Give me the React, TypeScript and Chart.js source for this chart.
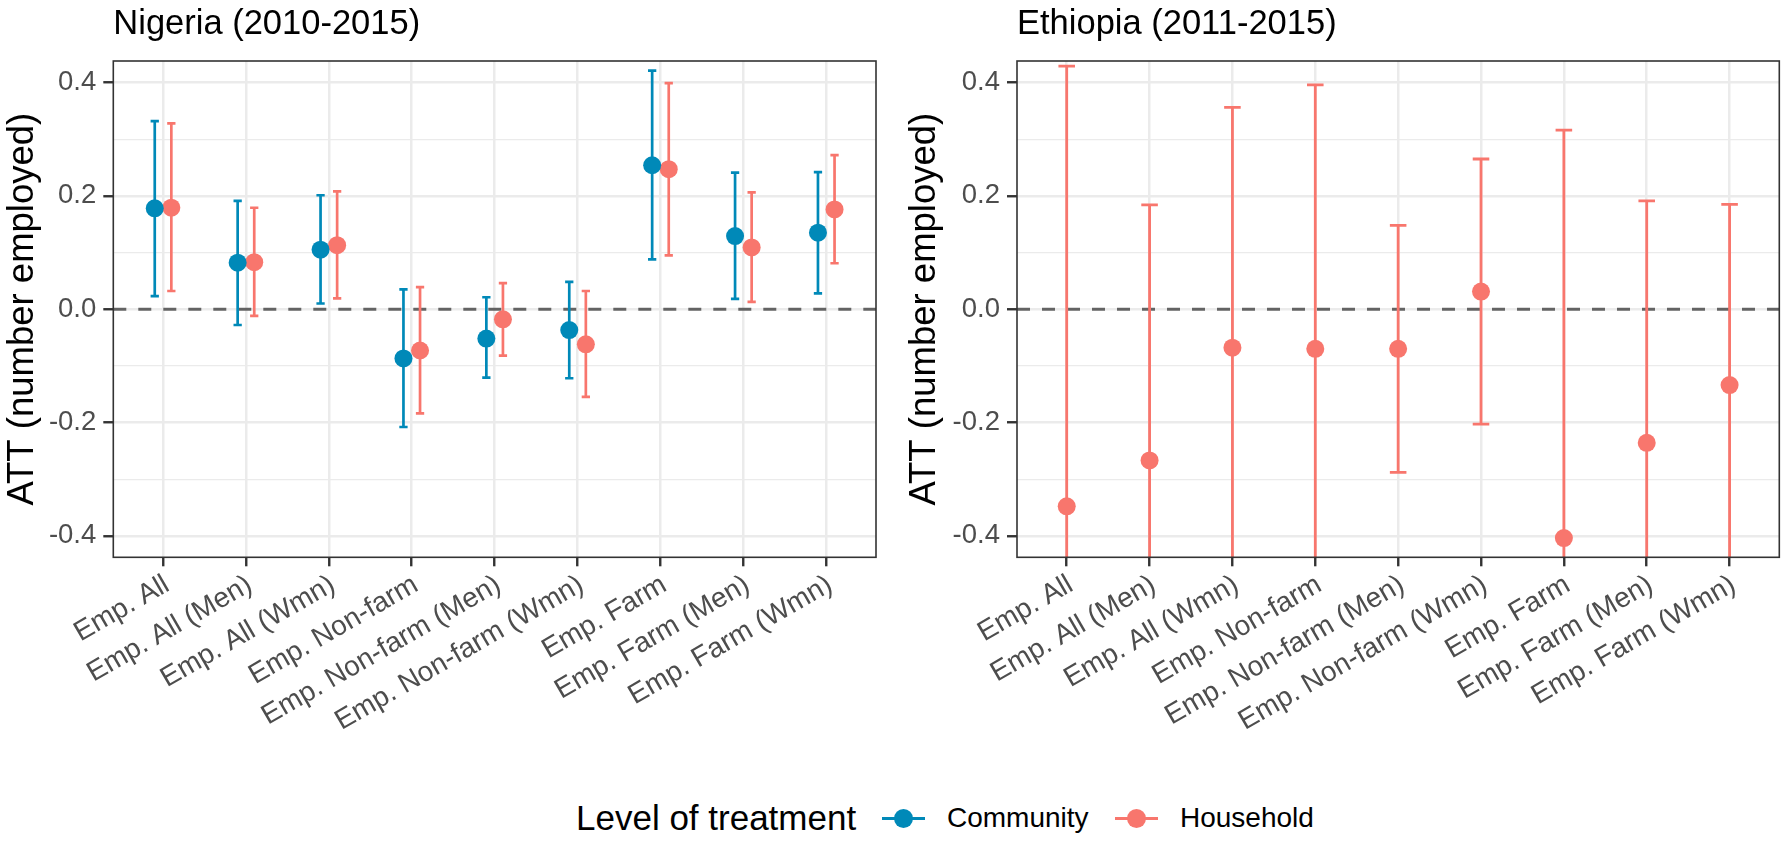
import React, { useEffect, useRef } from "react";
import { Chart, registerables } from "chart.js";

Chart.register(...registerables);

// ---------------- data ----------------
const categories = [
  "Emp. All",
  "Emp. All (Men)",
  "Emp. All (Wmn)",
  "Emp. Non-farm",
  "Emp. Non-farm (Men)",
  "Emp. Non-farm (Wmn)",
  "Emp. Farm",
  "Emp. Farm (Men)",
  "Emp. Farm (Wmn)",
];

const yMajorTicks = [-0.4, -0.2, 0.0, 0.2, 0.4];
const yMinorTicks = [-0.3, -0.1, 0.1, 0.3];

const seriesNames = ["Community", "Household"];
const seriesColors = ["#0089B8", "#F8766D"];
const legendTitle = "Level of treatment";

const nigeriaTitle = "Nigeria (2010-2015)";
const ethiopiaTitle = "Ethiopia (2011-2015)";
const yAxisTitle = "ATT (number employed)";

const nigeriaCommunityEst = [0.178, 0.082, 0.105, -0.087, -0.052, -0.037, 0.254, 0.129, 0.135];
const nigeriaCommunityLow = [0.023, -0.028, 0.010, -0.208, -0.121, -0.122, 0.088, 0.018, 0.028];
const nigeriaCommunityHigh = [0.332, 0.191, 0.201, 0.035, 0.021, 0.048, 0.421, 0.241, 0.242];

const nigeriaHouseholdEst = [0.179, 0.083, 0.113, -0.073, -0.018, -0.062, 0.247, 0.109, 0.176];
const nigeriaHouseholdLow = [0.032, -0.012, 0.019, -0.184, -0.082, -0.155, 0.095, 0.013, 0.081];
const nigeriaHouseholdHigh = [0.328, 0.179, 0.208, 0.039, 0.046, 0.032, 0.399, 0.206, 0.272];

const ethiopiaHouseholdEst = [-0.348, -0.267, -0.068, -0.070, -0.070, 0.031, -0.404, -0.236, -0.134];
const ethiopiaHouseholdLow = [-1.12, -0.72, -0.49, -0.54, -0.288, -0.203, -1.13, -0.66, -0.45];
const ethiopiaHouseholdHigh = [0.429, 0.184, 0.356, 0.396, 0.148, 0.265, 0.316, 0.191, 0.185];

// ---------------- styling ----------------
const FONT = "'Liberation Sans', Arial, Helvetica, sans-serif";
const CANVAS_W = 896;
const CANVAS_H = 770;
const Y_MIN = -0.438;
const Y_MAX = 0.438;

const round1 = (v: number) => Math.round(v * 10) / 10;
const yAllTicks = [...yMajorTicks, ...yMinorTicks].sort((a, b) => a - b);
const isMajor = (v: number) => yMajorTicks.some((t) => Math.abs(t - v) < 1e-6);

const errorBarPlugin = {
  id: "errorBars",
  beforeDatasetsDraw(chart: any) {
    const { ctx, chartArea, scales } = chart;
    const xs = scales.x;
    const ys = scales.y;
    ctx.save();
    ctx.beginPath();
    ctx.rect(chartArea.left, chartArea.top, chartArea.right - chartArea.left, chartArea.bottom - chartArea.top);
    ctx.clip();
    // dashed zero line
    const y0 = ys.getPixelForValue(0);
    ctx.setLineDash([13, 12]);
    ctx.strokeStyle = "rgba(0,0,0,0.58)";
    ctx.lineWidth = 3;
    ctx.beginPath();
    ctx.moveTo(chartArea.left, y0);
    ctx.lineTo(chartArea.right, y0);
    ctx.stroke();
    ctx.setLineDash([]);
    // error bars
    chart.data.datasets.forEach((ds: any) => {
      ctx.strokeStyle = ds.errColor;
      ctx.lineWidth = ds.errWidth;
      ctx.lineCap = "butt";
      ds.data.forEach((pt: any, i: number) => {
        const px = xs.getPixelForValue(pt.x);
        const pl = xs.getPixelForValue(pt.x - ds.capHalf);
        const pr = xs.getPixelForValue(pt.x + ds.capHalf);
        const yl = ys.getPixelForValue(ds.errLow[i]);
        const yh = ys.getPixelForValue(ds.errHigh[i]);
        ctx.beginPath();
        ctx.moveTo(px, yl);
        ctx.lineTo(px, yh);
        ctx.moveTo(pl, yl);
        ctx.lineTo(pr, yl);
        ctx.moveTo(pl, yh);
        ctx.lineTo(pr, yh);
        ctx.stroke();
      });
    });
    ctx.restore();
  },
  afterDraw(chart: any) {
    const { ctx, chartArea } = chart;
    ctx.save();
    ctx.strokeStyle = "#333333";
    ctx.lineWidth = 1.6;
    ctx.strokeRect(chartArea.left, chartArea.top, chartArea.right - chartArea.left, chartArea.bottom - chartArea.top);
    ctx.restore();
  },
};

type SeriesCfg = {
  label: string;
  color: string;
  est: number[];
  low: number[];
  high: number[];
  offset: number;
  capHalf: number;
  width: number;
};

type PanelCfg = {
  title: string;
  series: SeriesCfg[];
  yAxisWidth: number;
  padRight: number;
  yTitlePad: number;
};

function buildConfig(cfg: PanelCfg): any {
  return {
    type: "scatter",
    data: {
      datasets: cfg.series.map((s) => ({
        label: s.label,
        data: s.est.map((v, i) => ({ x: i + s.offset, y: v })),
        errLow: s.low,
        errHigh: s.high,
        errColor: s.color,
        errWidth: s.width,
        capHalf: s.capHalf,
        pointRadius: 9,
        pointHoverRadius: 9,
        pointBackgroundColor: s.color,
        pointBorderWidth: 0,
        borderColor: s.color,
        showLine: false,
      })),
    },
    options: {
      responsive: false,
      animation: false,
      events: [],
      layout: { padding: { left: 0, right: cfg.padRight, top: 0, bottom: 0 } },
      plugins: {
        legend: { display: false },
        tooltip: { enabled: false },
        title: {
          display: true,
          text: cfg.title,
          align: "start",
          fullSize: false,
          color: "#000000",
          font: { family: FONT, size: 34.5, weight: "normal" },
          padding: { top: 4, bottom: 15.6 },
        },
      },
      scales: {
        x: {
          type: "linear",
          min: -0.6,
          max: categories.length - 1 + 0.6,
          afterBuildTicks: (scale: any) => {
            scale.ticks = categories.map((_, i) => ({ value: i }));
          },
          afterFit: (scale: any) => {
            scale.height = CANVAS_H - 557.3;
          },
          border: { display: false },
          grid: {
            color: "#EBEBEB",
            lineWidth: 2.5,
            drawTicks: true,
            tickLength: 9,
            tickColor: "#333333",
            tickWidth: 2.4,
          },
          ticks: {
            autoSkip: false,
            minRotation: 30,
            maxRotation: 30,
            padding: 2,
            labelOffset: 4,
            color: "#4D4D4D",
            font: { family: FONT, size: 28 },
            callback: (value: number) => {
              const i = Math.round(value);
              return Math.abs(value - i) < 1e-6 ? categories[i] : "";
            },
          },
        },
        y: {
          type: "linear",
          min: Y_MIN,
          max: Y_MAX,
          afterBuildTicks: (scale: any) => {
            scale.ticks = yAllTicks.map((v) => ({ value: v }));
          },
          afterFit: (scale: any) => {
            scale.width = cfg.yAxisWidth;
          },
          border: { display: false },
          title: {
            display: true,
            text: yAxisTitle,
            color: "#000000",
            font: { family: FONT, size: 36.5 },
            padding: { top: cfg.yTitlePad, bottom: 0 },
          },
          grid: {
            color: "#EBEBEB",
            lineWidth: (c: any) => (c.tick && isMajor(c.tick.value) ? 2.5 : 1.2),
            drawTicks: true,
            tickLength: 10,
            tickColor: (c: any) => (c.tick && isMajor(c.tick.value) ? "#333333" : "rgba(0,0,0,0)"),
            tickWidth: 2.4,
          },
          ticks: {
            padding: 7,
            color: "#4D4D4D",
            font: { family: FONT, size: 27.5 },
            callback: (value: number) => (isMajor(value) ? round1(value).toFixed(1) : ""),
          },
        },
      },
    },
    plugins: [errorBarPlugin],
  };
}

function Panel({ cfg, left }: { cfg: PanelCfg; left: number }) {
  const ref = useRef<HTMLCanvasElement>(null);
  useEffect(() => {
    if (!ref.current) return;
    const chart = new Chart(ref.current, buildConfig(cfg));
    return () => chart.destroy();
  }, []);
  return (
    <canvas
      ref={ref}
      width={CANVAS_W}
      height={CANVAS_H}
      style={{ position: "absolute", left, top: 0, width: CANVAS_W, height: CANVAS_H }}
    />
  );
}

function LegendKey({ color }: { color: string }) {
  return (
    <div style={{ position: "relative", width: 43, height: 20 }}>
      <div
        style={{
          position: "absolute",
          left: 0,
          right: 0,
          top: 8.5,
          height: 3,
          background: color,
        }}
      />
      <div
        style={{
          position: "absolute",
          left: 21.5 - 9.5,
          top: 0.5,
          width: 19,
          height: 19,
          borderRadius: "50%",
          background: color,
        }}
      />
    </div>
  );
}

const nigeriaPanel: PanelCfg = {
  title: nigeriaTitle,
  yAxisWidth: 113.3,
  padRight: 20,
  yTitlePad: 1.5,
  series: [
    {
      label: seriesNames[0],
      color: seriesColors[0],
      est: nigeriaCommunityEst,
      low: nigeriaCommunityLow,
      high: nigeriaCommunityHigh,
      offset: -0.1,
      capHalf: 0.05,
      width: 2.7,
    },
    {
      label: seriesNames[1],
      color: seriesColors[1],
      est: nigeriaHouseholdEst,
      low: nigeriaHouseholdLow,
      high: nigeriaHouseholdHigh,
      offset: 0.1,
      capHalf: 0.05,
      width: 2.7,
    },
  ],
};

const ethiopiaPanel: PanelCfg = {
  title: ethiopiaTitle,
  yAxisWidth: 121,
  padRight: 12.7,
  yTitlePad: 7.5,
  series: [
    {
      label: seriesNames[1],
      color: seriesColors[1],
      est: ethiopiaHouseholdEst,
      low: ethiopiaHouseholdLow,
      high: ethiopiaHouseholdHigh,
      offset: 0,
      capHalf: 0.1,
      width: 2.8,
    },
  ],
};

export default function App() {
  const textStyle: React.CSSProperties = {
    position: "absolute",
    top: 788,
    height: 60,
    display: "flex",
    alignItems: "center",
    fontFamily: FONT,
    color: "#000000",
    whiteSpace: "nowrap",
  };
  return (
    <div
      style={{
        position: "absolute",
        left: 0,
        top: 0,
        width: 1792,
        height: 843,
        background: "#FFFFFF",
        overflow: "hidden",
      }}
    >
      <Panel cfg={nigeriaPanel} left={0} />
      <Panel cfg={ethiopiaPanel} left={CANVAS_W} />
      <div style={{ ...textStyle, left: 576, fontSize: 35 }}>{legendTitle}</div>
      <div style={{ ...textStyle, left: 882 }}>
        <LegendKey color={seriesColors[0]} />
      </div>
      <div style={{ ...textStyle, left: 947, fontSize: 28 }}>{seriesNames[0]}</div>
      <div style={{ ...textStyle, left: 1115 }}>
        <LegendKey color={seriesColors[1]} />
      </div>
      <div style={{ ...textStyle, left: 1180, fontSize: 28 }}>{seriesNames[1]}</div>
    </div>
  );
}
